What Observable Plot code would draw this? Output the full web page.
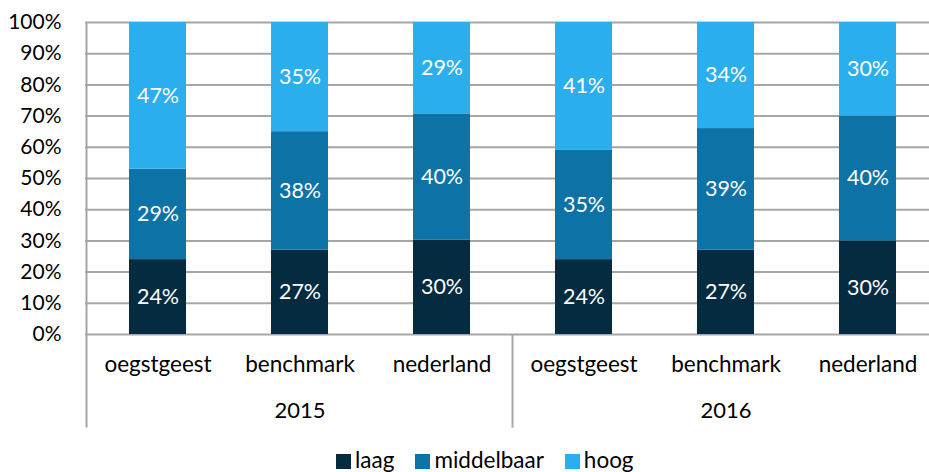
<!DOCTYPE html>
<html>
<head>
<meta charset="utf-8">
<script src="https://cdn.jsdelivr.net/npm/d3@7"></script>
<script src="https://cdn.jsdelivr.net/npm/@observablehq/plot@0.6"></script>
<style>
  html, body { margin: 0; padding: 0; background: #fff; overflow: hidden; }
  #chart svg { display: block; }
  .legend { display: flex; align-items: center; margin-left: 336px; height: 26px;
            font-family: Lato, sans-serif; font-size: 22.5px; color: #000; }
  .legend .item { display: flex; align-items: center; margin-right: 21px; }
  .legend .sw { width: 15px; height: 15px; margin-right: 4px; margin-top: 4px; }
</style>
</head>
<body>
<div id="chart"></div>
<script>
const years = ["2015", "2016"];
const regions = ["oegstgeest", "benchmark", "nederland"];
const levels = ["laag", "middelbaar", "hoog"];
const laag       = [24, 27, 30, 24, 27, 30];
const middelbaar = [29, 38, 40, 35, 39, 40];
const hoog       = [47, 35, 29, 41, 34, 30];
const yTicks = [0, 0.1, 0.2, 0.3, 0.4, 0.5, 0.6, 0.7, 0.8, 0.9, 1];
const colors = ["#042b40", "#0d72a6", "#2baeee"];

const keys = years.flatMap(yr => regions.map(r => yr + "|" + r));
const series = {laag, middelbaar, hoog};
const data = [];
keys.forEach((k, i) => levels.forEach(l => data.push({key: k, level: l, value: series[l][i]})));
const yearKeys = years.map(yr => yr + "|" + regions[1]);

const grey = "#a6a6a6";

const separators = (index, scales, values, dims) => {
  const x = scales.x, y = scales.y;
  const bw = typeof x.bandwidth === "function" ? x.bandwidth() : x.bandwidth;
  const step = x(keys[1]) - x(keys[0]);
  const gap = (step - bw) / 2;
  const g = d3.create("svg:g").attr("stroke", grey).attr("stroke-width", 2);
  years.forEach((yr, i) => {
    const first = x(yr + "|" + regions[0]) - gap;
    g.append("line").attr("x1", first).attr("x2", first)
      .attr("y1", i === 0 ? y(1) : y(0)).attr("y2", y(-0.3));
  });
  const last = x(keys[keys.length - 1]) + bw + gap;
  g.append("line").attr("x1", last).attr("x2", last).attr("y1", y(0)).attr("y2", y(-0.3));
  return g.node();
};

const plot = Plot.plot({
  width: 929,
  height: 446,
  marginTop: 22,
  marginBottom: 112,
  marginLeft: 85,
  marginRight: -10,
  style: {fontFamily: "Lato, sans-serif", fontSize: "21px", color: "#000", background: "#fff"},
  x: {domain: keys, paddingInner: 0.6, paddingOuter: 0.3, axis: null},
  y: {domain: [0, 1], axis: null},
  color: {domain: levels, range: colors},
  marks: [
    Plot.ruleY(yTicks, {stroke: grey, strokeWidth: 2}),
    Plot.barY(data, {x: "key", y: "value", fill: "level", offset: "normalize"}),
    Plot.text(data, Plot.stackY({x: "key", y: "value", z: "level", offset: "normalize",
      text: d => d.value + "%", fill: "white", fontSize: 21.5})),
    separators,
    Plot.axisY({ticks: yTicks, tickFormat: d => Math.round(d * 100) + "%", tickSize: 0, tickPadding: 24, label: null, fontSize: 21}),
    Plot.axisX({tickFormat: k => k.split("|")[1], tickSize: 0, tickPadding: 22, label: null, fontSize: 22.5}),
    Plot.axisX({ticks: yearKeys, tickFormat: k => k.split("|")[0], tickSize: 0, tickPadding: 68, label: null, fontSize: 22})
  ]
});
document.getElementById("chart").appendChild(plot);

const legend = d3.select("body").append("div").attr("class", "legend");
levels.forEach((l, i) => {
  const it = legend.append("div").attr("class", "item");
  it.append("div").attr("class", "sw").style("background", colors[i]);
  it.append("span").text(l);
});
</script>
</body>
</html>
